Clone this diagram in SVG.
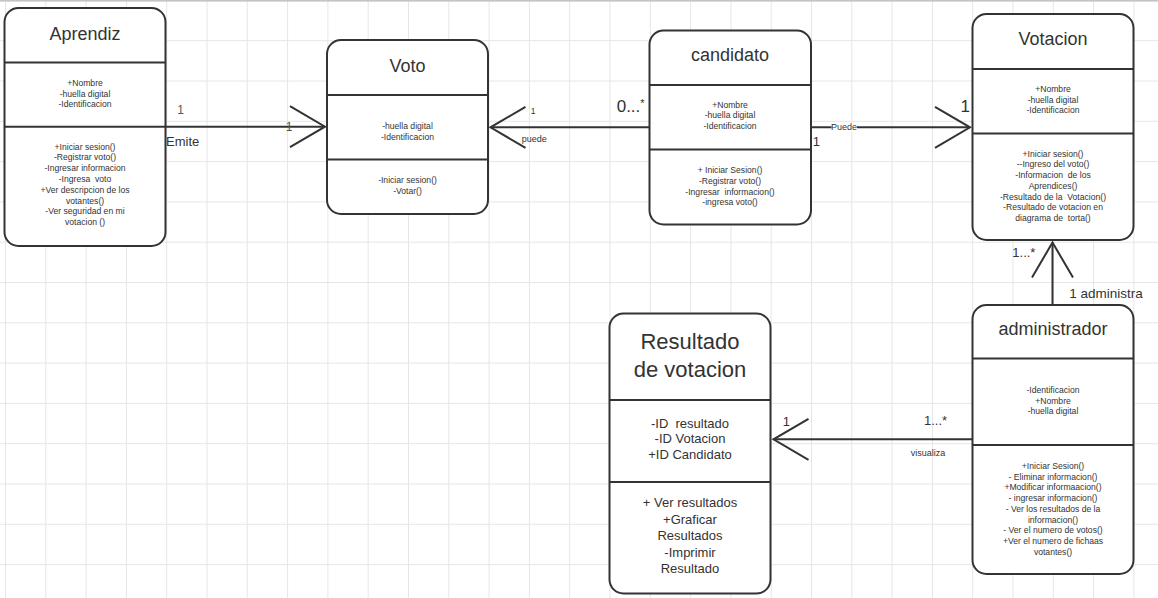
<svg xmlns="http://www.w3.org/2000/svg" width="1158" height="598" viewBox="0 0 1158 598" xml:space="preserve">
<style>
.grid{stroke:#e6e6e6;stroke-width:1;fill:none}
.box{fill:#fff;stroke:#333;stroke-width:2}
.div{stroke:#333;stroke-width:2}
text{font-family:"Liberation Sans",Arial,sans-serif;fill:#333;white-space:pre}
.ti{font-size:18px;text-anchor:middle}
.tb{font-size:22px;text-anchor:middle}
.s{font-size:8.6px;text-anchor:middle}
.m{font-size:13px;text-anchor:middle}
.conn{stroke:#333;stroke-width:2;fill:none}
.lb{font-size:13px}
.lbs{font-size:9px}
</style>
<defs>
<marker id="open" markerUnits="userSpaceOnUse" markerWidth="40" markerHeight="44" refX="0" refY="0" orient="auto" overflow="visible">
<path d="M-35,-20.5 L0,0 L-35,20.5" fill="none" stroke="#333" stroke-width="2"/>
</marker>
</defs>
<rect x="0" y="0" width="1158" height="598" fill="#fff"/>
<g id="grid">
<path class="grid" d="M5.5,0V598M45.8,0V598M86.1,0V598M126.4,0V598M166.7,0V598M207,0V598M247.3,0V598M287.6,0V598M327.9,0V598M368.2,0V598M408.5,0V598M448.8,0V598M489.1,0V598M529.4,0V598M569.7,0V598M610,0V598M650.3,0V598M690.6,0V598M730.9,0V598M771.2,0V598M811.5,0V598M851.8,0V598M892.1,0V598M932.4,0V598M972.7,0V598M1013,0V598M1053.3,0V598M1093.6,0V598M1133.9,0V598"/>
<path class="grid" d="M0,40.7H1158M0,81H1158M0,121.3H1158M0,161.6H1158M0,201.9H1158M0,242.2H1158M0,282.5H1158M0,322.8H1158M0,363.1H1158M0,403.4H1158M0,443.7H1158M0,484H1158M0,524.3H1158M0,564.6H1158"/>
<rect x="0" y="0" width="1158" height="1.6" fill="#c4c4c4"/>
</g>
<g id="connectors">
<path class="conn" d="M165.5,126.7H325" marker-end="url(#open)"/>
<path class="conn" d="M649.5,127.3H490.5" marker-end="url(#open)"/>
<path class="conn" d="M811,127.3H970" marker-end="url(#open)"/>
<path class="conn" d="M1052.5,305V242.5" marker-end="url(#open)"/>
<path class="conn" d="M972.5,439.3H773.5" marker-end="url(#open)"/>
<rect x="831.5" y="123" width="25.5" height="8.5" fill="#fff"/>
<text x="180.5" y="113.5" font-size="12" text-anchor="middle" style="fill:#555">1</text>
<text class="lb" x="166" y="145.7">Emite</text>
<text x="289" y="130.8" font-size="12" text-anchor="middle" style="fill:#555">1</text>
<text x="533" y="113.5" font-size="8.5" text-anchor="middle">1</text>
<text class="lbs" x="521.7" y="142.3">puede</text>
<text x="616.7" y="111.7" font-size="17">0...<tspan font-size="11" dy="-5">*</tspan></text>
<text class="lbs" x="844" y="129.6" text-anchor="middle">Puede</text>
<text class="lb" x="812.7" y="145.7">1</text>
<text x="960.5" y="112.3" font-size="17">1</text>
<text class="lb" x="1012.3" y="257.3">1...*</text>
<text x="1069.3" y="297.7" font-size="13.5">1 administra</text>
<text class="lb" x="782.7" y="425.7">1</text>
<text class="lb" x="924" y="425">1...*</text>
<text class="lbs" x="910.7" y="455.7">visualiza</text>
</g>
<g id="aprendiz">
<rect class="box" x="4.5" y="8" width="161" height="238" rx="14"/>
<line class="div" x1="4.5" y1="62.5" x2="165.5" y2="62.5"/>
<line class="div" x1="4.5" y1="126.7" x2="165.5" y2="126.7"/>
<text class="ti" x="85" y="39.5">Aprendiz</text>
<text class="s" x="85" y="86">+Nombre</text>
<text class="s" x="85" y="96.7">-huella digital</text>
<text class="s" x="85" y="107.3">-Identificacion</text>
<text class="s" x="85" y="149.5">+Iniciar sesion()</text>
<text class="s" x="85" y="160.3">-Registrar voto()</text>
<text class="s" x="85" y="171.1">-Ingresar informacion</text>
<text class="s" x="85" y="181.9">-Ingresa  voto</text>
<text class="s" x="85" y="192.7">+Ver descripcion de los</text>
<text class="s" x="85" y="203.5">votantes()</text>
<text class="s" x="85" y="214.3">-Ver seguridad en mi</text>
<text class="s" x="85" y="225.1">votacion ()</text>
</g>
<g id="voto">
<rect class="box" x="327" y="40" width="161" height="174" rx="14"/>
<line class="div" x1="327" y1="95" x2="488" y2="95"/>
<line class="div" x1="327" y1="159.5" x2="488" y2="159.5"/>
<text class="ti" x="407.5" y="71.7">Voto</text>
<text class="s" x="407.5" y="129">-huella digital</text>
<text class="s" x="407.5" y="140">-Identificacion</text>
<text class="s" x="407.5" y="183.3">-Iniciar sesion()</text>
<text class="s" x="407.5" y="194">-Votar()</text>
</g>
<g id="candidato">
<rect class="box" x="649.5" y="30.5" width="161.5" height="194" rx="14"/>
<line class="div" x1="649.5" y1="85" x2="811" y2="85"/>
<line class="div" x1="649.5" y1="149.5" x2="811" y2="149.5"/>
<text class="ti" x="730" y="61">candidato</text>
<text class="s" x="730" y="107.7">+Nombre</text>
<text class="s" x="730" y="118.3">-huella digital</text>
<text class="s" x="730" y="129">-Identificacion</text>
<text class="s" x="730" y="173.3">+ Iniciar Sesion()</text>
<text class="s" x="730" y="184">-Registrar voto()</text>
<text class="s" x="730" y="194.7">-Ingresar  informacion()</text>
<text class="s" x="730" y="205.3">-ingresa voto()</text>
</g>
<g id="votacion">
<rect class="box" x="972.5" y="14" width="161" height="226" rx="14"/>
<line class="div" x1="972.5" y1="69" x2="1133.5" y2="69"/>
<line class="div" x1="972.5" y1="133.5" x2="1133.5" y2="133.5"/>
<text class="ti" x="1053" y="45">Votacion</text>
<text class="s" x="1053" y="92">+Nombre</text>
<text class="s" x="1053" y="102.7">-huella digital</text>
<text class="s" x="1053" y="113.3">-Identificacion</text>
<text class="s" x="1053" y="156.7">+Iniciar sesion()</text>
<text class="s" x="1053" y="167.4">--Ingreso del voto()</text>
<text class="s" x="1053" y="178.1">-Informacion  de los</text>
<text class="s" x="1053" y="188.8">Aprendices()</text>
<text class="s" x="1053" y="199.5">-Resultado de la  Votacion()</text>
<text class="s" x="1053" y="210.2">-Resultado de votacion en</text>
<text class="s" x="1053" y="220.9">diagrama de  torta()</text>
</g>
<g id="administrador">
<rect class="box" x="972.5" y="305" width="161" height="269" rx="14"/>
<line class="div" x1="972.5" y1="358.5" x2="1133.5" y2="358.5"/>
<line class="div" x1="972.5" y1="445" x2="1133.5" y2="445"/>
<text class="ti" x="1053" y="335">administrador</text>
<text class="s" x="1053" y="392.7">-Identificacion</text>
<text class="s" x="1053" y="403.5">+Nombre</text>
<text class="s" x="1053" y="414.3">-huella digital</text>
<text class="s" x="1053" y="469">+Iniciar Sesion()</text>
<text class="s" x="1053" y="479.7">- Eliminar informacion()</text>
<text class="s" x="1053" y="490.4">+Modificar informaacion()</text>
<text class="s" x="1053" y="501.1">- ingresar informacion()</text>
<text class="s" x="1053" y="511.8">- Ver los resultados de la</text>
<text class="s" x="1053" y="522.5">informacion()</text>
<text class="s" x="1053" y="533.2">- Ver el numero de votos()</text>
<text class="s" x="1053" y="543.9">+Ver el numero de fichaas</text>
<text class="s" x="1053" y="554.6">votantes()</text>
</g>
<g id="resultado">
<rect class="box" x="609.5" y="313.5" width="161" height="280" rx="14"/>
<line class="div" x1="609.5" y1="400" x2="770.5" y2="400"/>
<line class="div" x1="609.5" y1="482" x2="770.5" y2="482"/>
<text class="tb" x="690" y="349.3">Resultado</text>
<text class="tb" x="690" y="376.7">de votacion</text>
<text class="m" x="690" y="427.7">-ID  resultado</text>
<text class="m" x="690" y="443.3">-ID Votacion</text>
<text class="m" x="690" y="459">+ID Candidato</text>
<text class="m" x="690" y="507.3">+ Ver resultados</text>
<text class="m" x="690" y="523.8">+Graficar</text>
<text class="m" x="690" y="540.3">Resultados</text>
<text class="m" x="690" y="556.8">-Imprimir</text>
<text class="m" x="690" y="573.3">Resultado</text>
</g>
</svg>
